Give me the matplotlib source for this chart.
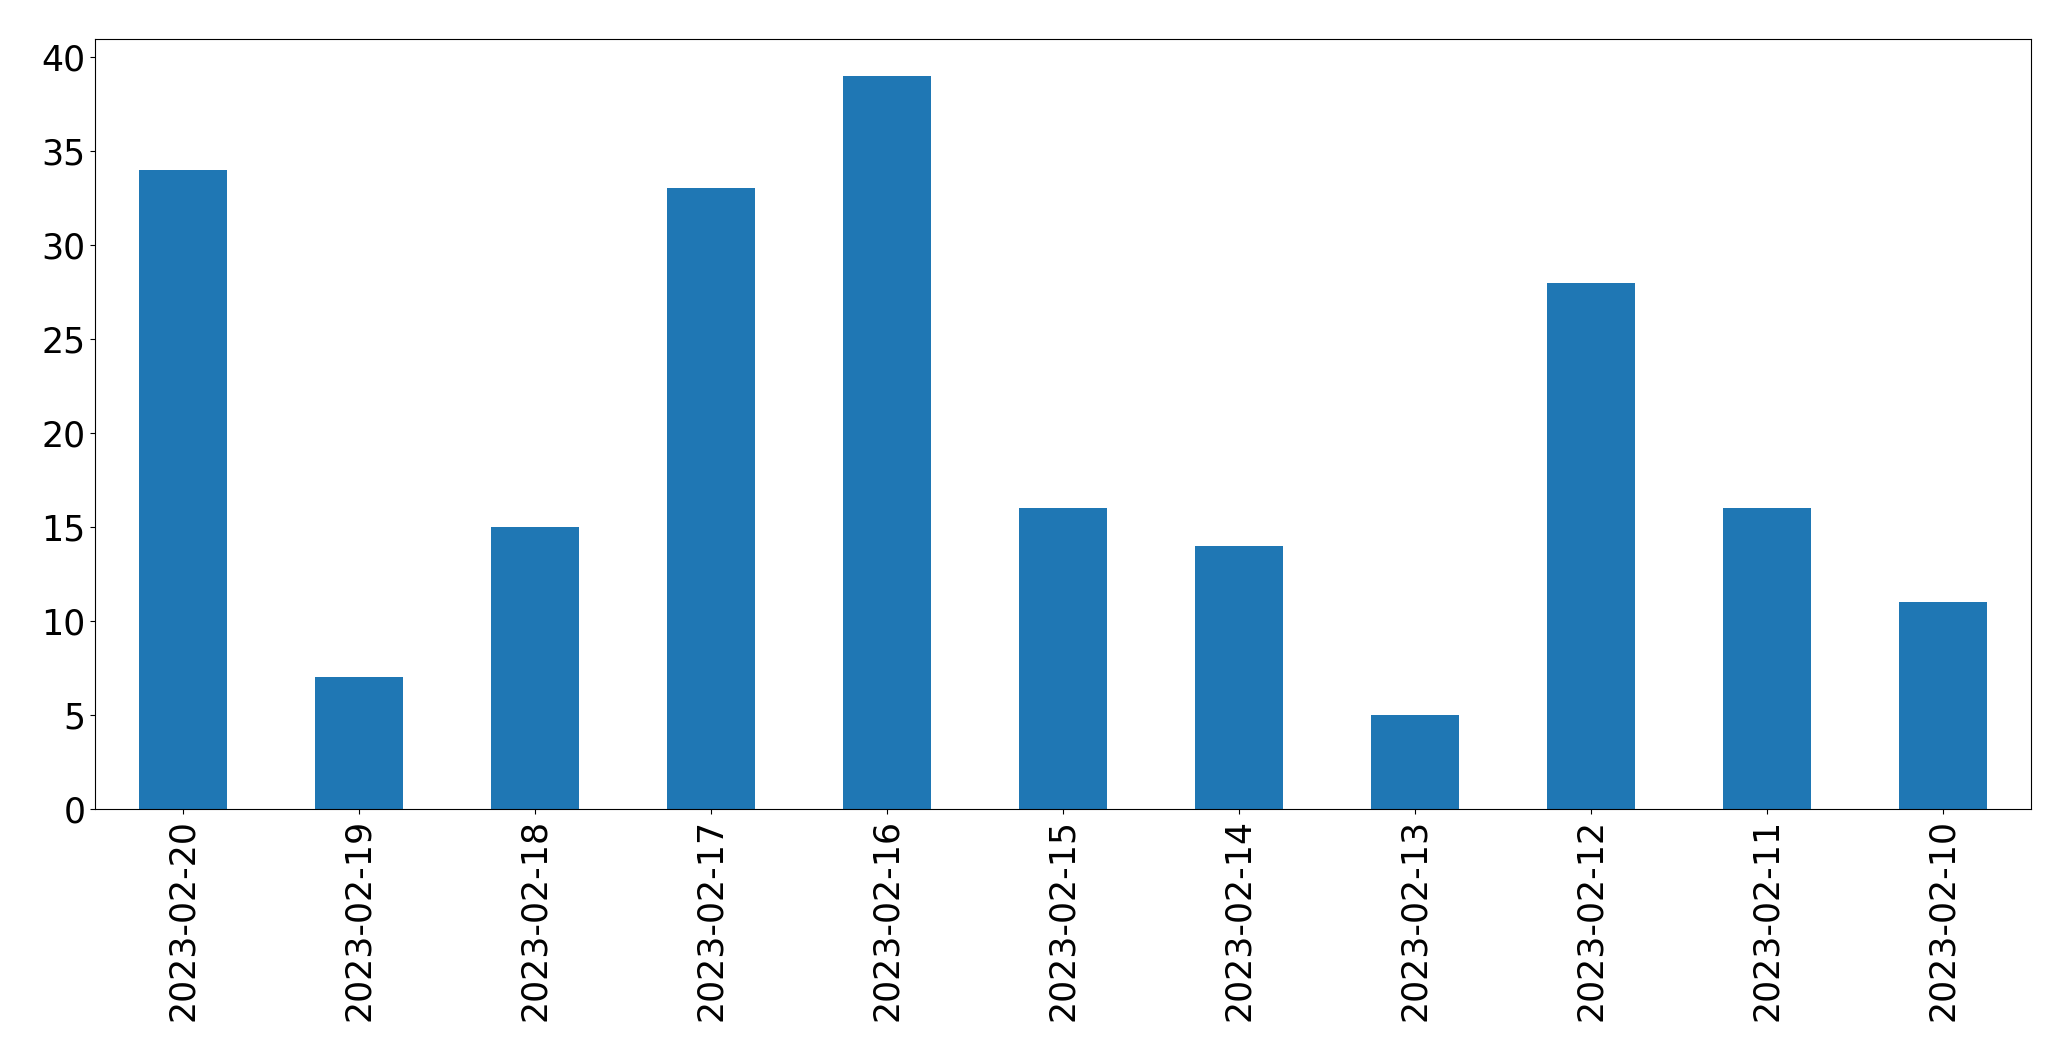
import matplotlib
matplotlib.use("Agg")
import matplotlib.pyplot as plt

dates = ["2023-02-20", "2023-02-19", "2023-02-18", "2023-02-17", "2023-02-16",
         "2023-02-15", "2023-02-14", "2023-02-13", "2023-02-12", "2023-02-11",
         "2023-02-10"]
counts = [34, 7, 15, 33, 39, 16, 14, 5, 28, 16, 11]

fig = plt.figure(figsize=(20.71, 10.61), dpi=100)
ax = fig.add_axes([95/2071, 1 - 809/1061, (2031-95)/2071, (809-39)/1061])
x = list(range(len(dates)))
ax.bar(x, counts, width=0.5, color="#1f77b4")
ax.set_xlim(-0.5, len(dates) - 0.5)
ax.set_ylim(0, 40.95)
ax.set_xticks(x)
ax.set_xticklabels(dates, rotation=90)
ax.tick_params(labelsize=25)
fig.savefig("out.png", dpi=100)
